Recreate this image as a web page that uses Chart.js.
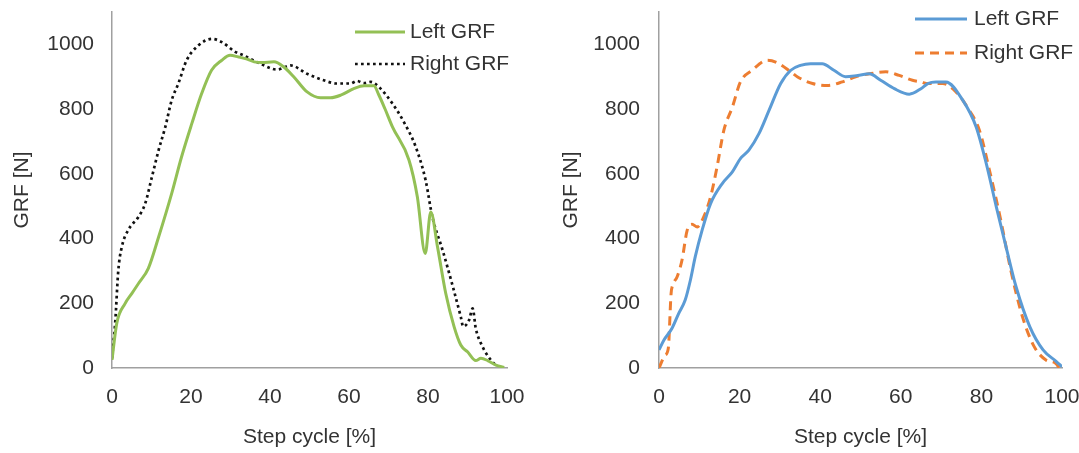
<!DOCTYPE html>
<html>
<head>
<meta charset="utf-8">
<title>GRF over the step cycle</title>
<script src="https://cdn.jsdelivr.net/npm/chart.js@4/dist/chart.umd.min.js"></script>
<style>
  html, body { margin: 0; padding: 0; background: #ffffff; }
  #wrap { position: relative; width: 1079px; height: 453px; overflow: hidden; }
  .panel { position: absolute; top: 0; }
  #panelA { left: 0; }
  #panelB { left: 540px; }
</style>
</head>
<body>
<div id="wrap">
  <canvas id="panelA" class="panel" width="540" height="453"></canvas>
  <canvas id="panelB" class="panel" width="539" height="453"></canvas>
</div>
<script>
// Axis ticks shared by both panels
const stepTicks = [0, 20, 40, 60, 80, 100];
const grfTicks = [0, 200, 400, 600, 800, 1000];
const seriesNames = ['Left GRF', 'Right GRF'];

// Panel A: left foot (solid green) and right foot (dotted black)
const aLeftPct = [0, 1.2, 3.3, 5, 6.7, 9.2, 11.8, 15.1, 17.6, 20.2, 22.7, 25.2, 27.8, 29.9, 32, 34, 36, 38, 41, 43.5, 46, 49.4, 52.8, 55.3, 57.9, 61.2, 63.8, 66.3, 67.5, 69.1, 71, 75.2, 77.3, 79.3, 80.7, 82.4, 84.5, 86.6, 88.3, 90, 92.1, 93.4, 95.1, 97.2, 99.3];
const aLeftGRF = [25, 138, 199, 230, 261, 308, 405, 539, 652, 755, 848, 920, 951, 966, 961, 955, 946, 944, 946, 930, 900, 853, 835, 835, 843, 863, 872, 872, 845, 801, 745, 642, 529, 354, 482, 375, 230, 128, 71, 50, 23, 30, 23, 9, 2];
const aRightPct = [0, 0.8, 1.6, 2.5, 4.1, 6.7, 8.4, 10.1, 11.8, 13.5, 15.1, 16.8, 18.9, 21.9, 25.3, 27.8, 31.2, 33.3, 37.6, 41.8, 45.2, 49.4, 53.6, 57, 60.4, 62, 63.8, 65.5, 67.6, 71, 73.9, 76.9, 79.4, 81.1, 83.7, 86.3, 88.3, 88.9, 90.4, 91.3, 92.1, 93.6, 95.9, 97.5];
const aRightGRF = [30, 139, 302, 375, 426, 467, 508, 590, 673, 745, 827, 879, 951, 997, 1017, 1007, 977, 966, 940, 922, 935, 909, 889, 879, 879, 887, 880, 884, 868, 817, 760, 683, 580, 467, 364, 251, 158, 128, 148, 184, 122, 71, 25, 5];

// Panel B: left foot (solid blue) and right foot (dashed orange)
const bLeftPct = [0, 1.2, 3.2, 4.9, 6.5, 7.8, 9, 10.7, 12.8, 15.7, 18.2, 20.2, 22.3, 24.8, 27.3, 30.2, 32.7, 35.1, 37.6, 40.5, 43.4, 46.3, 49.3, 52.2, 55, 58.4, 62.1, 65, 66.7, 68.7, 71.2, 75.4, 78.7, 81.2, 83.7, 86.1, 88.6, 92, 95.3, 98.6, 100];
const bLeftGRF = [56, 86, 122, 169, 210, 272, 344, 426, 508, 570, 606, 647, 673, 724, 796, 879, 920, 935, 940, 940, 920, 900, 904, 909, 889, 863, 846, 863, 879, 884, 884, 827, 745, 632, 498, 375, 251, 128, 56, 20, 4];
const bRightPct = [0, 1.5, 2.3, 3.0, 3.4, 4.5, 5.7, 7, 8.2, 9.5, 11.1, 12.8, 14.4, 16.1, 18.2, 20.2, 23.1, 26.9, 29.4, 32.7, 34.3, 38.1, 41.8, 45.5, 48.8, 52.2, 56.3, 59.6, 62.9, 65, 66.4, 70.4, 73.7, 77, 79.5, 82, 84.8, 87.3, 90.2, 93.1, 96, 98.5, 99.3];
const bRightGRF = [0, 39, 60, 230, 256, 282, 333, 426, 444, 436, 467, 529, 621, 735, 806, 884, 920, 951, 943, 915, 900, 879, 873, 884, 900, 909, 915, 904, 889, 884, 879, 879, 853, 796, 735, 611, 457, 302, 158, 66, 25, 14, 0];

const FONT_FAMILY = "'Liberation Sans', Arial, sans-serif";
const FONT_SIZE = 21;
const TEXT_COLOR = '#333333';
const AXIS_COLOR = '#a0a0a0';

function toPoints(xs, ys) {
  return xs.map((x, i) => ({ x: x, y: ys[i] }));
}

// Draws the line-sample key in the upper right of each panel
const lineKey = {
  id: 'lineKey',
  afterDraw(chart, args, opts) {
    const ctx = chart.ctx;
    chart.data.datasets.forEach((ds, i) => {
      const y = opts.y + i * opts.rowGap;
      ctx.save();
      ctx.strokeStyle = ds.borderColor;
      ctx.lineWidth = ds.borderWidth;
      ctx.lineCap = 'butt';
      ctx.setLineDash(ds.borderDash || []);
      ctx.beginPath();
      ctx.moveTo(opts.x, y);
      ctx.lineTo(opts.x + opts.len, y);
      ctx.stroke();
      ctx.setLineDash([]);
      ctx.fillStyle = TEXT_COLOR;
      ctx.font = FONT_SIZE + 'px ' + FONT_FAMILY;
      ctx.textBaseline = 'middle';
      ctx.textAlign = 'left';
      ctx.fillText(ds.label, opts.x + opts.len + opts.gap, y);
      ctx.restore();
    });
  }
};

function buildPanel(canvasId, datasets, frame) {
  const font = { family: FONT_FAMILY, size: FONT_SIZE };
  return new Chart(document.getElementById(canvasId), {
    type: 'line',
    data: { datasets: datasets },
    options: {
      responsive: false,
      animation: false,
      events: [],
      layout: { padding: { top: 12, right: frame.padRight, bottom: 0, left: 0 } },
      elements: { point: { radius: 0 } },
      plugins: {
        legend: { display: false },
        tooltip: { enabled: false },
        lineKey: frame.key
      },
      scales: {
        x: {
          type: 'linear',
          min: 0,
          max: 100,
          afterBuildTicks: (s) => { s.ticks = stepTicks.map(v => ({ value: v })); },
          afterFit: (s) => { s.height = 85; s.paddingLeft = 0; s.paddingRight = 0; },
          grid: { display: false, drawTicks: false },
          border: { display: true, color: AXIS_COLOR, width: 1.5 },
          ticks: { color: TEXT_COLOR, font: font, padding: 16.4, maxRotation: 0, callback: (v) => String(v) },
          title: { display: true, text: 'Step cycle [%]', color: TEXT_COLOR, font: font, padding: { top: 0, bottom: 3.4 } }
        },
        y: {
          type: 'linear',
          min: 0,
          max: 1100,
          afterBuildTicks: (s) => { s.ticks = grfTicks.map(v => ({ value: v })); },
          afterFit: (s) => { s.width = frame.yWidth; s.paddingTop = 0; s.paddingBottom = 0; },
          grid: { display: false, drawTicks: false },
          border: { display: true, color: AXIS_COLOR, width: 1.5 },
          ticks: { color: TEXT_COLOR, font: font, padding: frame.yTickPad, callback: (v) => String(v) },
          title: { display: true, text: frame.yTitle, color: TEXT_COLOR, font: font, padding: { top: frame.yTitlePad, bottom: 0 } }
        }
      }
    },
    plugins: [lineKey]
  });
}

buildPanel('panelA', [
  {
    label: seriesNames[0],
    data: toPoints(aLeftPct, aLeftGRF),
    borderColor: '#93c055',
    borderWidth: 3,
    cubicInterpolationMode: 'monotone',
    fill: false
  },
  {
    label: seriesNames[1],
    data: toPoints(aRightPct, aRightGRF),
    borderColor: '#111111',
    borderWidth: 2.7,
    borderDash: [2.7, 3.3],
    cubicInterpolationMode: 'monotone',
    fill: false
  }
], {
  padRight: 33,
  yWidth: 112,
  yTickPad: 18,
  yTitle: 'GRF [N]',
  yTitlePad: 9.4,
  key: { x: 355, y: 32, len: 50, gap: 5, rowGap: 32 }
});

buildPanel('panelB', [
  {
    label: seriesNames[0],
    data: toPoints(bLeftPct, bLeftGRF),
    borderColor: '#5b9bd5',
    borderWidth: 3,
    cubicInterpolationMode: 'monotone',
    fill: false
  },
  {
    label: seriesNames[1],
    data: toPoints(bRightPct, bRightGRF),
    borderColor: '#ed7d31',
    borderWidth: 3,
    borderDash: [9, 6],
    cubicInterpolationMode: 'monotone',
    fill: false
  }
], {
  padRight: 17,
  yWidth: 119,
  yTickPad: 19,
  yTitle: 'GRF [N]',
  yTitlePad: 18.4,
  key: { x: 375, y: 19, len: 52, gap: 7, rowGap: 34 }
});
</script>
</body>
</html>
